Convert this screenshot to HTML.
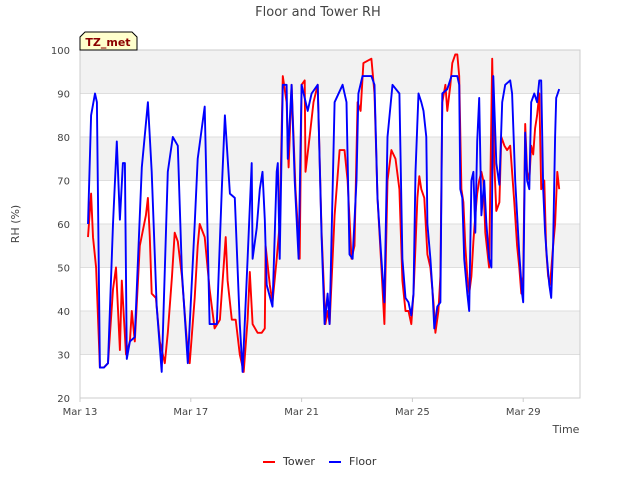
<!DOCTYPE html>
<html><head><meta charset="utf-8"><style>
body{margin:0;background:#fff;font-family:"Liberation Sans","DejaVu Sans",sans-serif}
svg text{font-family:"DejaVu Sans","Liberation Sans",sans-serif}
</style></head><body>
<svg id="c" width="640" height="480">
<text x="318" y="16" text-anchor="middle" font-size="13" fill="#444">Floor and Tower RH</text>
<g id="plot"></g>
<text x="19" y="224" text-anchor="middle" font-size="11" fill="#444" transform="rotate(-90 19 224)">RH (%)</text>
<text x="566" y="433" text-anchor="middle" font-size="11" fill="#444">Time</text>
<g>
<path d="M80,50 L80,37 L85,32 L132,32 L137,37 L137,50 Z" fill="#ffffcc" stroke="#000" stroke-width="1"/>
<text x="108" y="46" text-anchor="middle" font-size="11" font-weight="bold" fill="#8b0000">TZ_met</text>
</g>
<g><line x1="263" y1="462" x2="275" y2="462" stroke="red" stroke-width="2"/><text x="283" y="465" font-size="11" fill="#333">Tower</text></g>
<g><line x1="329" y1="462" x2="341" y2="462" stroke="blue" stroke-width="2"/><text x="349" y="465" font-size="11" fill="#333">Floor</text></g>
</svg>
<script>
const yTicks=[20,30,40,50,60,70,80,90,100];
const xTickDays=[0,4,8,12,16];
const xTickLabels=["Mar 13","Mar 17","Mar 21","Mar 25","Mar 29"];
const floorT=[0.29,0.40,0.54,0.61,0.72,0.86,1.01,1.19,1.33,1.44,1.55,1.62,1.69,1.80,1.98,2.23,2.45,2.59,2.77,2.95,3.17,3.35,3.53,3.68,3.89,4.14,4.25,4.50,4.68,4.94,5.12,5.23,5.41,5.59,5.77,5.87,6.05,6.20,6.23,6.38,6.49,6.59,6.67,6.74,6.95,7.10,7.14,7.21,7.32,7.46,7.50,7.64,7.75,7.89,8.00,8.22,8.36,8.58,8.72,8.83,8.94,9.01,9.19,9.48,9.62,9.73,9.84,9.98,10.05,10.20,10.52,10.63,10.74,10.88,10.99,11.10,11.28,11.53,11.64,11.75,11.86,11.96,12.04,12.11,12.22,12.32,12.40,12.50,12.54,12.65,12.72,12.79,12.90,13.01,13.08,13.26,13.41,13.62,13.69,13.73,13.80,13.87,13.98,14.05,14.13,14.20,14.27,14.34,14.41,14.49,14.59,14.67,14.77,14.85,14.92,15.03,15.14,15.24,15.35,15.53,15.60,15.71,15.86,15.96,16.00,16.07,16.14,16.22,16.29,16.40,16.50,16.58,16.65,16.72,16.79,16.86,16.94,17.01,17.08,17.15,17.19,17.30];
const floorV=[60,85,90,88,27,27,28,60,79,61,74,74,29,33,34,73,88,72,41,26,72,80,78,49,28,60,75,87,37,37,68,85,67,66,37,26,52,74,52,59,68,72,61,46,41,72,74,52,92,92,75,92,70,52,92,86,90,92,57,37,44,37,88,92,88,53,52,70,90,94,94,92,66,52,42,80,92,90,52,43,42,39,44,72,90,88,86,80,60,52,45,36,41,42,90,91,94,94,92,68,66,52,44,40,70,72,58,79,89,62,70,60,52,50,94,74,69,88,92,93,90,70,53,44,42,81,70,68,88,90,88,93,93,68,58,52,46,43,55,80,89,91];
const towerT=[0.29,0.40,0.47,0.58,0.72,0.86,1.01,1.19,1.30,1.44,1.51,1.66,1.80,1.87,1.98,2.16,2.38,2.45,2.52,2.59,2.74,2.88,3.06,3.17,3.32,3.42,3.53,3.68,3.86,3.96,4.14,4.25,4.32,4.50,4.68,4.86,5.05,5.26,5.33,5.48,5.62,5.77,5.91,6.05,6.13,6.23,6.41,6.56,6.67,6.70,6.85,6.95,7.10,7.21,7.32,7.46,7.53,7.64,7.78,7.93,8.00,8.11,8.14,8.29,8.43,8.58,8.72,8.86,8.94,9.01,9.19,9.37,9.55,9.66,9.80,9.91,10.02,10.13,10.23,10.52,10.63,10.74,10.88,10.99,11.10,11.24,11.39,11.53,11.64,11.75,11.86,11.96,12.04,12.11,12.18,12.25,12.32,12.43,12.54,12.65,12.76,12.83,12.94,13.01,13.08,13.19,13.26,13.37,13.44,13.55,13.62,13.69,13.77,13.84,13.91,13.98,14.05,14.13,14.20,14.27,14.34,14.41,14.49,14.56,14.63,14.70,14.77,14.88,14.95,15.03,15.14,15.21,15.32,15.42,15.53,15.68,15.78,15.86,15.93,16.00,16.07,16.14,16.22,16.29,16.36,16.43,16.50,16.58,16.65,16.76,16.83,16.90,16.97,17.08,17.15,17.23,17.30];
const towerV=[57,67,57,50,27,27,28,45,50,31,47,30,33,40,33,55,62,66,57,44,43,33,28,35,48,58,56,48,33,28,43,55,60,57,45,36,38,57,47,38,38,30,26,38,49,37,35,35,36,55,46,42,52,60,94,88,73,92,68,52,92,93,72,80,88,92,58,37,40,37,62,77,77,70,52,55,88,86,97,98,90,66,50,37,70,77,75,68,47,40,40,37,44,55,66,71,68,66,53,50,42,35,40,48,88,92,86,92,97,99,99,94,68,65,55,48,44,48,56,62,67,70,72,70,58,54,50,98,75,63,65,80,78,77,78,65,55,50,44,48,83,72,70,78,76,82,85,90,68,70,54,48,46,55,60,72,68];
const NS="http://www.w3.org/2000/svg";
const L=80,R=580,T=50,B=398;
const xs=d=>L+d*(R-L)/18.05;
const ys=v=>B-(v-20)*(B-T)/80;
const g=document.getElementById('plot');
function mk(t,a){const e=document.createElementNS(NS,t);for(const k in a)e.setAttribute(k,a[k]);g.appendChild(e);return e;}
for(let i=0;i<yTicks.length-1;i++){
  if(i%2===1){const b=mk('rect',{x:L,y:ys(yTicks[i+1]),width:R-L,height:ys(yTicks[i])-ys(yTicks[i+1]),fill:'#f2f2f2'});
  
  }
}
yTicks.forEach(v=>{
  const l=mk('line',{x1:L,x2:R,y1:ys(v),y2:ys(v),stroke:'#dedede','stroke-width':1});
  
  
  const t=mk('text',{x:L-10,y:ys(v)+4,'text-anchor':'end','font-size':10,fill:'#444'});
  t.textContent=v;
  
  
});
const fr=mk('rect',{x:L,y:T,width:R-L,height:B-T,fill:'none',stroke:'#cccccc'});


xTickDays.forEach((d,i)=>{
  const tk=mk('line',{x1:xs(d),x2:xs(d),y1:B,y2:B+4,stroke:'#ccc'});
  
  
  const t=mk('text',{x:xs(d),y:B+17,'text-anchor':'middle','font-size':10,fill:'#444'});
  t.textContent=xTickLabels[i];
  
  
});
function line(T_,V,col,name){
  const d=T_.map((t,i)=>(i?'L':'M')+xs(t).toFixed(1)+','+ys(V[i]).toFixed(1)).join('');
  const p=mk('path',{d:d,fill:'none',stroke:col,'stroke-width':1.9,'stroke-linejoin':'round'});
  
  
}
line(towerT,towerV,'red','tower-line');
line(floorT,floorV,'blue','floor-line');
</script>
</body></html>
